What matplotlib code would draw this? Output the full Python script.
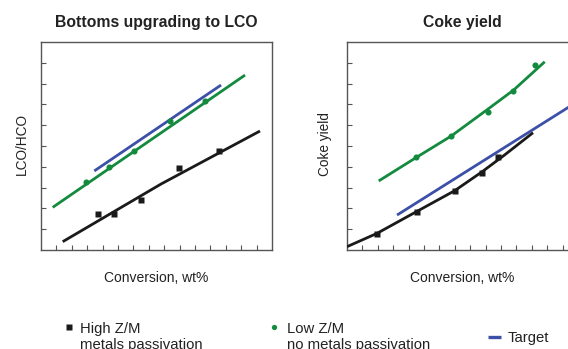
import matplotlib
matplotlib.use("Agg")
import matplotlib.pyplot as plt
from matplotlib.lines import Line2D

plt.rcParams['font.family'] = ['Liberation Sans', 'DejaVu Sans']

GREEN = '#138a3e'
BLUE = '#3d50a8'
BLACK = '#1a1a1a'
FRAME = '#555555'
TEXT = '#222222'

# Bottoms upgrading to LCO
lco_high_x = [3.68, 4.72, 6.47, 8.94, 11.58]
lco_high_y = [1.75, 1.71, 2.40, 3.96, 4.76]
lco_high_fit_x = [1.41, 7.79, 14.22]
lco_high_fit_y = [0.40, 3.17, 5.72]
lco_low_x = [2.92, 4.39, 6.02, 8.40, 10.67]
lco_low_y = [3.28, 3.97, 4.78, 6.20, 7.18]
lco_low_fit_x = [0.76, 13.25]
lco_low_fit_y = [2.05, 8.41]
lco_target_x = [3.46, 11.69]
lco_target_y = [3.80, 7.93]

# Coke yield
coke_high_x = [1.95, 4.55, 6.99, 8.77, 9.81]
coke_high_y = [0.78, 1.84, 2.82, 3.69, 4.49]
coke_high_fit_x = [0.0, 1.95, 4.55, 6.99, 8.77, 10.2, 12.08]
coke_high_fit_y = [0.16, 0.80, 1.86, 2.85, 3.76, 4.55, 5.64]
coke_low_x = [4.48, 6.77, 9.16, 10.76, 12.23]
coke_low_y = [4.49, 5.50, 6.65, 7.66, 8.88]
coke_low_fit_x = [2.06, 4.48, 6.77, 9.09, 10.82, 12.84]
coke_low_fit_y = [3.32, 4.44, 5.48, 6.74, 7.69, 9.05]
coke_target_x = [3.25, 15.0]
coke_target_y = [1.68, 7.15]

titles = ['Bottoms upgrading to LCO', 'Coke yield']
ylabels = ['LCO/HCO', 'Coke yield']
ylabel_x = [-0.052, -0.064]
xlabel = 'Conversion, wt%'
legend_high = ['High Z/M', 'metals passivation']
legend_low = ['Low Z/M', 'no metals passivation']
legend_target = 'Target'

W, H = 568, 349
fig = plt.figure(figsize=(W / 100, H / 100), dpi=100)


def fx(px):
    return px / W


def fy(py):
    return (H - py) / H


ax1 = fig.add_axes([fx(41), fy(250), 231 / W, 208 / H])
ax2 = fig.add_axes([fx(347), fy(250), 231 / W, 208 / H])

panels = [
    (ax1, lco_high_x, lco_high_y, lco_high_fit_x, lco_high_fit_y,
     lco_low_x, lco_low_y, lco_low_fit_x, lco_low_fit_y, lco_target_x, lco_target_y),
    (ax2, coke_high_x, coke_high_y, coke_high_fit_x, coke_high_fit_y,
     coke_low_x, coke_low_y, coke_low_fit_x, coke_low_fit_y, coke_target_x, coke_target_y),
]

for i, (ax, hx, hy, hfx, hfy, lx, ly, lfx, lfy, tx, ty) in enumerate(panels):
    ax.plot(tx, ty, color=BLUE, lw=2.0, solid_capstyle='butt', zorder=2)
    ax.plot(lfx, lfy, color=GREEN, lw=2.0, solid_capstyle='butt', zorder=3)
    ax.plot(hfx, hfy, color=BLACK, lw=2.0, solid_capstyle='butt', zorder=3)
    ax.plot(lx, ly, 'o', color=GREEN, ms=4.4, mec='none', zorder=4)
    ax.plot(hx, hy, 's', color=BLACK, ms=4.8, mec='none', zorder=4)
    ax.set_xlim(0, 15)
    ax.set_ylim(0, 10)
    ax.set_xticks(range(1, 15))
    ax.set_yticks(range(1, 10))
    ax.tick_params(direction='in', length=3.5, width=0.8, color=FRAME,
                   labelbottom=False, labelleft=False)
    for sp in ax.spines.values():
        sp.set_color(FRAME)
        sp.set_linewidth(1.0)
    ax.set_title(titles[i], fontsize=11.3, fontweight='bold', color=TEXT, pad=11)
    ax.set_ylabel(ylabels[i], fontsize=9.8, color=TEXT)
    ax.yaxis.set_label_coords(ylabel_x[i], 0.51)
    ax.set_xlabel(xlabel, fontsize=10, color=TEXT, labelpad=15)

# legend row along the bottom
fig.add_artist(Line2D([fx(69)], [fy(326.7)], marker='s', ms=4.4, color=BLACK, mec='none'))
fig.text(fx(80.5), fy(332.7), legend_high[0], fontsize=10.7, color=TEXT, va='baseline')
fig.text(fx(80.5), fy(348.7), legend_high[1], fontsize=10.7, color=TEXT, va='baseline')
fig.add_artist(Line2D([fx(274.3)], [fy(326.7)], marker='o', ms=3.8, color=GREEN, mec='none'))
fig.text(fx(286.7), fy(332.7), legend_low[0], fontsize=10.7, color=TEXT, va='baseline')
fig.text(fx(286.7), fy(348.7), legend_low[1], fontsize=10.7, color=TEXT, va='baseline')
fig.add_artist(Line2D([fx(487.7), fx(500.7)], [fy(336.7), fy(336.7)], color=BLUE,
                      lw=2.4, solid_capstyle='butt'))
fig.text(fx(507.3), fy(341.7), legend_target, fontsize=10.7, color=TEXT, va='baseline')

fig.savefig('out.png', dpi=100)
